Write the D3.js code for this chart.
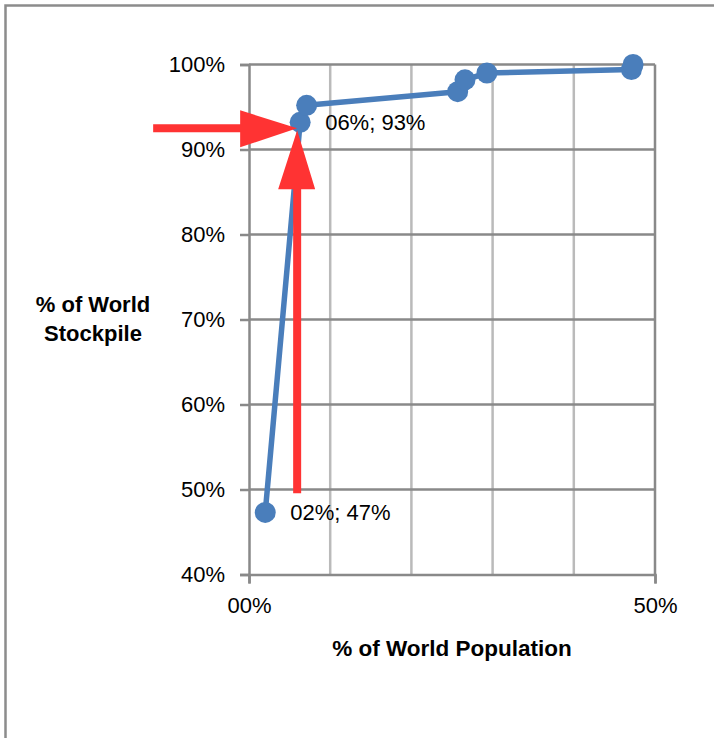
<!DOCTYPE html>
<html>
<head>
<meta charset="utf-8">
<script src="https://cdn.jsdelivr.net/npm/d3@7"></script>
<style>
  html, body { margin: 0; padding: 0; background: #fff; }
  svg { display: block; font-family: "Liberation Sans", Arial, sans-serif; }
</style>
</head>
<body>
<svg id="chart" width="714" height="738"></svg>
<script>
// ---- data (percent) ----
const popShare   = [2.0, 6.3, 7.1, 25.7, 26.6, 29.3, 47.1, 47.3];
const stockShare = [47.3, 93.2, 95.2, 96.8, 98.2, 99.0, 99.4, 100.0];
const labeledIdx = [0, 1];
const yTicks = [40, 50, 60, 70, 80, 90, 100];
const xGrid  = [10, 20, 30, 40];
const xTicks = [0, 50];
const xTitle = "% of World Population";
const yTitle = ["% of World", "Stockpile"];

const svg = d3.select("#chart");

// frame
svg.append("rect").attr("x", 5.5).attr("y", 5.5).attr("width", 730).attr("height", 760)
  .attr("fill", "none").attr("stroke", "#8c8c8c").attr("stroke-width", 2.5);

const x = d3.scaleLinear().domain([0, 50]).range([249, 655]);
const y = d3.scaleLinear().domain([40, 100]).range([574.5, 64.5]);

const dark = "#898989", light = "#bababa";

// vertical minor gridlines
svg.append("g").selectAll("line").data(xGrid).join("line")
  .attr("x1", d => x(d)).attr("x2", d => x(d))
  .attr("y1", y(40)).attr("y2", y(100))
  .attr("stroke", light).attr("stroke-width", 2.5);

// horizontal major gridlines
svg.append("g").selectAll("line").data(yTicks.filter(d => d > 40)).join("line")
  .attr("x1", x(0)).attr("x2", x(50))
  .attr("y1", d => y(d)).attr("y2", d => y(d))
  .attr("stroke", dark).attr("stroke-width", 2.5);

// right major gridline at 50%
svg.append("line").attr("x1", x(50)).attr("x2", x(50)).attr("y1", y(40)).attr("y2", y(100))
  .attr("stroke", dark).attr("stroke-width", 2.5);

// y axis
const yAxis = svg.append("g").attr("transform", `translate(${x(0)},0)`)
  .call(d3.axisLeft(y).tickValues(yTicks).tickSize(9).tickPadding(15).tickFormat(d => d + "%"));
// x axis
const xAxis = svg.append("g").attr("transform", `translate(0,${y(40)})`)
  .call(d3.axisBottom(x).tickValues(xTicks).tickSize(9).tickPadding(14)
    .tickFormat(d => String(d).padStart(2, "0") + "%"));

[yAxis, xAxis].forEach(g => {
  g.select(".domain").attr("stroke", dark).attr("stroke-width", 2.5);
  g.selectAll(".tick line").attr("stroke", dark).attr("stroke-width", 2.5);
  g.selectAll(".tick text").attr("fill", "#000").attr("font-size", 22)
    .attr("font-family", "'Liberation Sans', Arial, sans-serif");
});

// series line
const pts = popShare.map((v, i) => [v, stockShare[i]]);
const lineColor = "#4a7ebb";
svg.append("path").datum(pts)
  .attr("d", d3.line().x(d => x(d[0])).y(d => y(d[1])))
  .attr("fill", "none").attr("stroke", lineColor).attr("stroke-width", 5.5)
  .attr("stroke-linejoin", "round");

// markers
svg.append("g").selectAll("circle").data(pts).join("circle")
  .attr("cx", d => x(d[0])).attr("cy", d => y(d[1])).attr("r", 10.5)
  .attr("fill", lineColor);

// data labels
svg.append("g").selectAll("text").data(labeledIdx).join("text")
  .attr("x", i => x(pts[i][0]) + 25)
  .attr("y", i => y(pts[i][1]))
  .attr("dy", "0.36em")
  .attr("font-size", 22).attr("fill", "#000")
  .text(i => String(Math.round(pts[i][0])).padStart(2, "0") + "%; " + Math.round(pts[i][1]) + "%");

// red arrows pointing at the labelled point
const red = "#ff3333";
const tx = x(pts[1][0]) - 3, ty = y(pts[1][1]) + 6;
// horizontal arrow
svg.append("path")
  .attr("d", `M${tx - 144},${ty - 4} L${tx - 57},${ty - 4} L${tx - 57},${ty - 18} L${tx},${ty} L${tx - 57},${ty + 19} L${tx - 57},${ty + 4} L${tx - 144},${ty + 4} Z`)
  .attr("fill", red);
// vertical arrow
svg.append("path")
  .attr("d", `M${tx - 4},${ty + 365} L${tx - 4},${ty + 61} L${tx - 19},${ty + 61} L${tx},${ty + 2} L${tx + 18},${ty + 61} L${tx + 4},${ty + 61} L${tx + 4},${ty + 365} Z`)
  .attr("fill", red);

// axis titles
svg.append("text").attr("x", 452).attr("y", 656).attr("text-anchor", "middle")
  .attr("font-size", 22.5).attr("font-weight", "bold").attr("fill", "#000").text(xTitle);
svg.append("text").attr("text-anchor", "middle").attr("font-size", 22)
  .attr("font-weight", "bold").attr("fill", "#000")
  .selectAll("tspan").data(yTitle).join("tspan")
  .attr("x", 93).attr("y", (d, i) => 312 + i * 29).text(d => d);
</script>
</body>
</html>
